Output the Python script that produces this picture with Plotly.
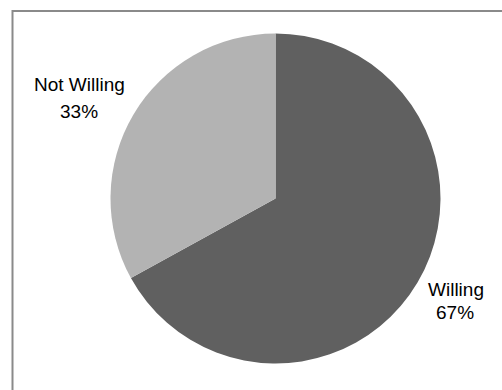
import plotly.graph_objects as go

labels = ["Willing", "Not Willing"]
values = [67, 33]
colors = ["#606060", "#b3b3b3"]

W, H = 502, 390

fig = go.Figure()
fig.add_trace(go.Pie(
    labels=labels,
    values=values,
    sort=False,
    direction="clockwise",
    rotation=0,
    textinfo="none",
    hoverinfo="label+percent",
    marker=dict(colors=colors, line=dict(width=0)),
    domain=dict(x=[(275.5 - 165) / W, (275.5 + 165) / W],
                y=[1 - 364 / H, 1 - 33 / H]),
    showlegend=False,
))

# label positions (pixels) for each slice: (name center, pct center)
label_pos = {
    "Willing": ((455.5, 289), (455, 312)),
    "Not Willing": ((79.5, 84), (78.5, 111)),
}
total = sum(values)
font = dict(family="Liberation Sans, Arial, sans-serif", size=19, color="#000000")
for lab, val in zip(labels, values):
    (nx, ny), (px, py) = label_pos[lab]
    fig.add_annotation(x=nx / W, y=1 - ny / H, xref="paper", yref="paper",
                       text=lab, showarrow=False, font=font,
                       xanchor="center", yanchor="middle")
    fig.add_annotation(x=px / W, y=1 - py / H, xref="paper", yref="paper",
                       text=f"{round(100 * val / total)}%", showarrow=False, font=font,
                       xanchor="center", yanchor="middle")

fig.add_shape(type="rect", xref="paper", yref="paper",
              x0=12.5 / W, x1=1.05, y0=-0.05, y1=1 - 11 / H,
              line=dict(color="#8a8a8a", width=2), fillcolor="rgba(0,0,0,0)")

fig.update_layout(width=W, height=H, margin=dict(l=0, r=0, t=0, b=0),
                  paper_bgcolor="white", plot_bgcolor="white")

fig.write_html("out.html")
